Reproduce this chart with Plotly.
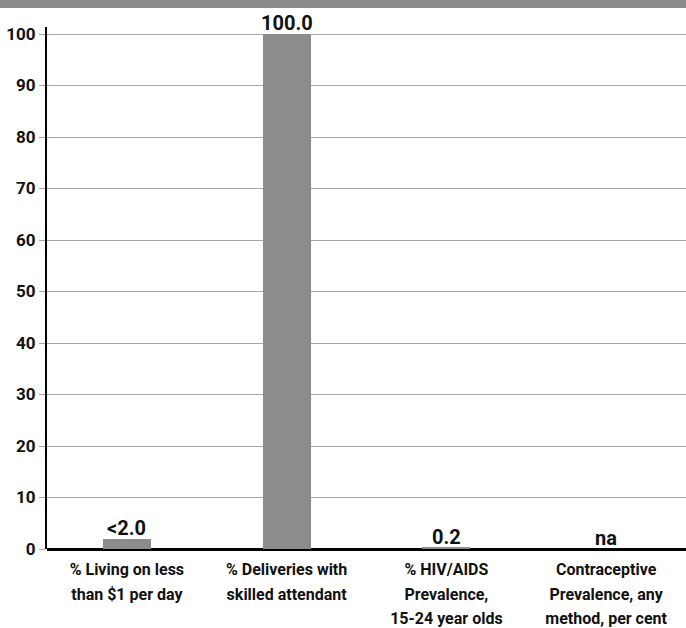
import plotly.graph_objects as go

categories = ["% Living on less<br>than $1 per day",
              "% Deliveries with<br>skilled attendant",
              "% HIV/AIDS<br>Prevalence,<br>15-24 year olds",
              "Contraceptive<br>Prevalence, any<br>method, per cent"]
values = [2.0, 100.0, 0.2, None]
value_labels = ["<2.0", "100.0", "0.2", "na"]
y_ticks = [0, 10, 20, 30, 40, 50, 60, 70, 80, 90, 100]

FONT = "Roboto, Arial, sans-serif"
BAR = "#8c8c8c"

xs = list(range(len(categories)))
fig = go.Figure()
fig.add_trace(go.Bar(
    x=xs, y=[v if v is not None else 0 for v in values],
    marker=dict(color=BAR, line=dict(width=0)),
    width=0.30, cliponaxis=False, hoverinfo="skip",
))

for xi, v, lab in zip(xs, values, value_labels):
    fig.add_annotation(x=xi, y=v if v is not None else 0, text="<b>%s</b>" % lab,
                       showarrow=False, yanchor="bottom", yshift=-3,
                       font=dict(family=FONT, size=20, color="#111"))

fig.add_shape(type="rect", xref="paper", yref="paper",
              x0=-47/639 - 0.01, x1=1.01, y0=1 + 19/522, y1=1 + 27/522 + 0.01,
              fillcolor="#8a8a8a", line=dict(width=0), layer="above")

span = '<span style="font-size:16px"><b>%s</b></span>'
ticktext = ["<br>".join(span % part for part in c.split("<br>")) for c in categories]

fig.update_layout(
    width=686, height=628,
    margin=dict(l=47, r=0, t=27, b=79),
    plot_bgcolor="white", paper_bgcolor="white",
    showlegend=False,
    bargap=0,
    font=dict(family=FONT, size=16, color="#111"),
    xaxis=dict(
        range=[-0.5, 3.5], tickmode="array", tickvals=xs,
        ticktext=ticktext, ticklabelstandoff=6,
        tickangle=0, automargin=False,
        showgrid=False, zeroline=False, showline=False, ticks="",
        tickfont=dict(family=FONT, size=19, color="#111"),
    ),
    yaxis=dict(
        range=[0, 101.36], tickmode="array", tickvals=y_ticks,
        ticktext=["<b>%d</b>" % t for t in y_ticks],
        automargin=False,
        showgrid=True, gridcolor="#a8a8a8", gridwidth=1,
        zeroline=True, zerolinecolor="#000", zerolinewidth=3,
        showline=True, linecolor="#000", linewidth=2,
        ticks="outside", ticklen=6, tickcolor="#a8a8a8", tickwidth=1,
        tickfont=dict(family=FONT, size=17, color="#111"),
    ),
)

fig.write_html("out.html", config={"displayModeBar": False},
               post_script="document.body.style.margin='0';")
